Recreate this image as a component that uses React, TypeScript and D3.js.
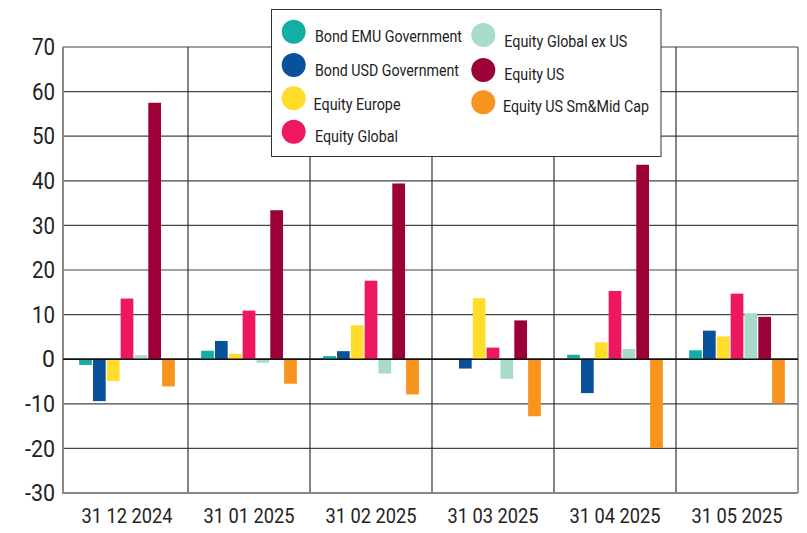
import * as d3 from "d3";

const categories = ["31 12 2024", "31 01 2025", "31 02 2025", "31 03 2025", "31 04 2025", "31 05 2025"];
const seriesNames = [
  "Bond EMU Government",
  "Bond USD Government",
  "Equity Europe",
  "Equity Global",
  "Equity Global ex US",
  "Equity US",
  "Equity US Sm&Mid Cap",
];
const seriesColors = ["#13afa6", "#0a519c", "#ffdd2a", "#ee1761", "#a8dbcb", "#9c0039", "#f7941e"];

// one array per series, one value per category
const bondEmu = [-1.3, 1.9, 0.7, -0.1, 1.0, 2.0];
const bondUsd = [-9.4, 4.1, 1.8, -2.1, -7.6, 6.4];
const eqEurope = [-4.9, 1.2, 7.6, 13.7, 3.8, 5.1];
const eqGlobal = [13.6, 10.9, 17.6, 2.6, 15.3, 14.7];
const eqGlobalExUs = [0.9, -0.8, -3.2, -4.4, 2.3, 10.3];
const eqUs = [57.5, 33.4, 39.4, 8.7, 43.6, 9.5];
const eqUsSmMid = [-6.1, -5.5, -7.9, -12.8, -19.9, -9.9];
const seriesValues = [bondEmu, bondUsd, eqEurope, eqGlobal, eqGlobalExUs, eqUs, eqUsSmMid];

const yTicks = [70, 60, 50, 40, 30, 20, 10, 0, -10, -20, -30];

const W = 807;
const H = 533;
const plotLeft = 63;
const plotRight = 798;
const plotTop = 47;
const plotBottom = 493;

// the reference uses a condensed face, so text widths are squeezed to fit
const legendWidths = [147, 144, 87, 83, 123, 60, 146];

export default function App() {
  const x0 = d3.scaleBand<string>().domain(categories).range([66, plotRight]).paddingInner(0).paddingOuter(0);
  const x1 = d3
    .scaleBand<string>()
    .domain(seriesNames)
    .range([0, x0.bandwidth()])
    .paddingInner(0.08)
    .paddingOuter(0.95);
  const y = d3.scaleLinear().domain([-30, 70]).range([plotBottom, plotTop]);

  const legendLeft = seriesNames.slice(0, 4);
  const legendRight = seriesNames.slice(4);

  const tickWidth = (t: number) => (t === 0 ? undefined : t < 0 ? 30 : 23);

  return (
    <svg
      width={W}
      height={H}
      style={{ position: "absolute", left: 0, top: 0, background: "#fff" }}
      fontFamily="Roboto, sans-serif"
    >
      {/* horizontal grid */}
      {yTicks.map((t) => (
        <line
          key={`g${t}`}
          x1={plotLeft}
          x2={plotRight}
          y1={y(t)}
          y2={y(t)}
          stroke={t === 0 ? "#111" : "#444"}
          strokeWidth={t === 0 ? 1.4 : 1.2}
        />
      ))}
      {/* category dividers */}
      {categories.slice(1).map((c) => (
        <line
          key={`v${c}`}
          x1={x0(c)}
          x2={x0(c)}
          y1={plotTop}
          y2={plotBottom}
          stroke="#333"
          strokeWidth={1.2}
        />
      ))}
      <line x1={plotRight} x2={plotRight} y1={plotTop} y2={plotBottom} stroke="#777" strokeWidth={1.5} />
      <line x1={plotLeft} x2={plotLeft} y1={plotTop} y2={plotBottom + 1} stroke="#888" strokeWidth={2} />
      <line x1={plotLeft} x2={plotRight} y1={plotBottom} y2={plotBottom} stroke="#888" strokeWidth={2} />

      {/* bars */}
      {categories.map((c, ci) => (
        <g key={c} transform={`translate(${x0(c)},0)`}>
          {seriesNames.map((s, si) => {
            const v = seriesValues[si][ci];
            return (
              <rect
                key={s}
                x={x1(s)}
                width={x1.bandwidth()}
                y={y(Math.max(0, v))}
                height={Math.abs(y(v) - y(0))}
                fill={seriesColors[si]}
              />
            );
          })}
        </g>
      ))}
      <line x1={plotLeft} x2={plotRight} y1={y(0)} y2={y(0)} stroke="#111" strokeWidth={1.4} />

      {/* y tick labels */}
      {yTicks.map((t) => (
        <text
          key={`t${t}`}
          x={55}
          y={y(t)}
          dy="0.36em"
          textAnchor="end"
          fontSize={23}
          fill="#222"
          textLength={tickWidth(t)}
          lengthAdjust="spacingAndGlyphs"
        >
          {t}
        </text>
      ))}

      {/* x labels */}
      {categories.map((c) => (
        <text
          key={`x${c}`}
          x={(x0(c) ?? 0) + x0.bandwidth() / 2}
          y={516}
          dy="0.36em"
          textAnchor="middle"
          fontSize={20}
          fill="#222"
          textLength={91}
          lengthAdjust="spacingAndGlyphs"
        >
          {c}
        </text>
      ))}

      {/* legend */}
      <rect x={271.5} y={9.5} width={389.5} height={147} fill="#fff" stroke="#333" strokeWidth={1} />
      {legendLeft.map((s, i) => {
        const cy = [31.7, 65, 98.3, 131.7][i];
        const ty = [36, 70, 104, 136][i];
        return (
          <g key={s}>
            <circle cx={293.7} cy={cy} r={12} fill={seriesColors[i]} />
            <text
              x={i === 2 ? 313.5 : 315}
              y={ty}
              dy="0.36em"
              fontSize={16}
              fill="#222"
              textLength={legendWidths[i]}
              lengthAdjust="spacingAndGlyphs"
            >
              {s}
            </text>
          </g>
        );
      })}
      {legendRight.map((s, i) => {
        const cy = [35, 70, 102.3][i];
        const ty = [41.7, 74, 106.7][i];
        return (
          <g key={s}>
            <circle cx={483.3} cy={cy} r={12} fill={seriesColors[i + 4]} />
            <text
              x={i === 2 ? 503 : 504.3}
              y={ty}
              dy="0.36em"
              fontSize={16}
              fill="#222"
              textLength={legendWidths[i + 4]}
              lengthAdjust="spacingAndGlyphs"
            >
              {s}
            </text>
          </g>
        );
      })}
    </svg>
  );
}
